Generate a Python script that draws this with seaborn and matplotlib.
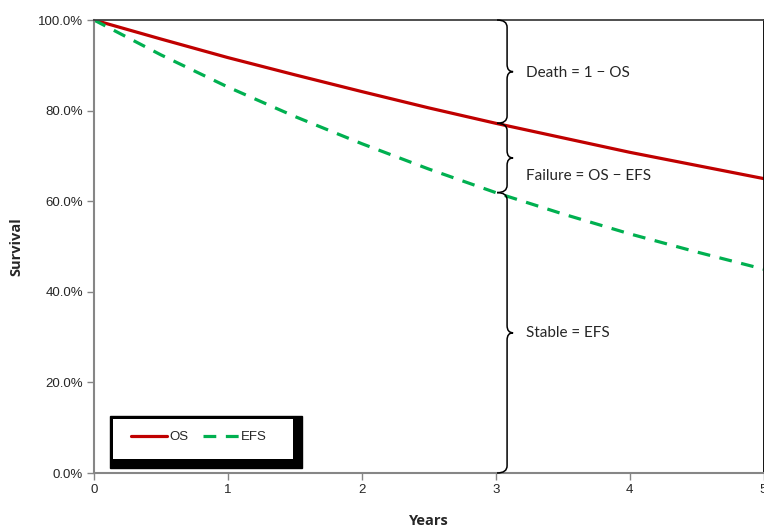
import pandas as pd
import matplotlib.pyplot as plt
import seaborn as sns
from matplotlib.path import Path
import matplotlib.patches as mpatches
from matplotlib.ticker import PercentFormatter

# values (survival in %)
years = [0, 0.5, 1, 1.5, 2, 2.5, 3, 3.5, 4, 4.5, 5]
os_surv = [100, 95.8, 91.7, 87.9, 84.2, 80.6, 77.2, 74.0, 70.8, 67.9, 65.0]
efs_surv = [100, 92.3, 85.2, 78.7, 72.7, 67.1, 61.9, 57.2, 52.8, 48.8, 45.0]

brace_year = 3
brace_labels = ["Death = 1 \u2212 OS", "Failure = OS \u2212 EFS", "Stable = EFS"]
label_y = [88.3, 65.5, 31.0]

df = pd.DataFrame({
    "Years": years * 2,
    "Survival": os_surv + efs_surv,
    "Curve": ["OS"] * len(years) + ["EFS"] * len(years),
})

sns.set_style("white")
plt.rcParams["font.family"] = ["Liberation Sans", "DejaVu Sans"]

fig = plt.figure(figsize=(7.64, 5.28), dpi=100)
ax = fig.add_axes([94 / 764, 1 - 473 / 528, 669.5 / 764, 453 / 528])

sns.lineplot(data=df, x="Years", y="Survival", hue="Curve", style="Curve",
             hue_order=["OS", "EFS"], style_order=["OS", "EFS"],
             palette={"OS": "#C00000", "EFS": "#00B050"},
             dashes={"OS": "", "EFS": (4, 3)}, linewidth=2.3, ax=ax, legend=False)

ax.set_xlim(0, 5)
ax.set_ylim(0, 100)
ax.set_xticks(range(6))
ax.set_yticks(range(0, 101, 20))
ax.yaxis.set_major_formatter(PercentFormatter(decimals=1))
ax.tick_params(axis="both", direction="out", length=5, width=1, color="#868686",
               labelsize=9.5, pad=3, bottom=True, left=True)
for side in ["left", "bottom"]:
    ax.spines[side].set_color("#868686")
    ax.spines[side].set_linewidth(1.5)
ax.spines["top"].set_color("#404040")
ax.spines["top"].set_linewidth(1.3)
ax.spines["right"].set_color("black")
ax.spines["right"].set_linewidth(1.3)

ax.set_xlabel("Years", fontsize=10.5, fontweight="bold", family=["Open Sans", "DejaVu Sans"], labelpad=13)
ax.set_ylabel("Survival", fontsize=10.5, fontweight="bold", family=["Open Sans", "DejaVu Sans"], labelpad=10)


def brace(y0, y1):
    xl, xs, xt = 3.01, 3.085, 3.13
    r = 1.6
    ym = (y0 + y1) / 2
    verts = [(xl, y1), (xs, y1), (xs, y1 - r), (xs, ym + r), (xs, ym), (xt, ym),
             (xs, ym), (xs, ym - r), (xs, y0 + r), (xs, y0), (xl, y0)]
    codes = [Path.MOVETO, Path.CURVE3, Path.CURVE3, Path.LINETO, Path.CURVE3, Path.CURVE3,
             Path.CURVE3, Path.CURVE3, Path.LINETO, Path.CURVE3, Path.CURVE3]
    ax.add_patch(mpatches.PathPatch(Path(verts, codes), fill=False, lw=1.1,
                                    edgecolor="black", clip_on=False, zorder=4))


i3 = years.index(brace_year)
levels = [100, os_surv[i3], efs_surv[i3], 0]
for k in range(3):
    brace(levels[k + 1], levels[k])
    ax.text(3.23, label_y[k], brace_labels[k], fontsize=11, va="center", ha="left",
            family=["Lato", "DejaVu Sans"])

# legend box with heavy black shadow
ax.add_patch(mpatches.Rectangle((0.024, 0.011), 0.286, 0.115, transform=ax.transAxes,
                                facecolor="black", edgecolor="black", zorder=5))
ax.add_patch(mpatches.Rectangle((0.028, 0.031), 0.269, 0.088, transform=ax.transAxes,
                                facecolor="white", edgecolor="none", zorder=6))
handles = [plt.Line2D([], [], color="#C00000", lw=2.3, label="OS"),
           plt.Line2D([], [], color="#00B050", lw=2.3, dashes=(4, 3), label="EFS")]
leg = ax.legend(handles=handles, loc="center", bbox_to_anchor=(0.157, 0.079), ncol=2,
                frameon=False, fontsize=9.5, handlelength=2.75, handletextpad=0.15,
                columnspacing=1.1)
leg.set_zorder(7)

fig.savefig("out.png", dpi=100)
